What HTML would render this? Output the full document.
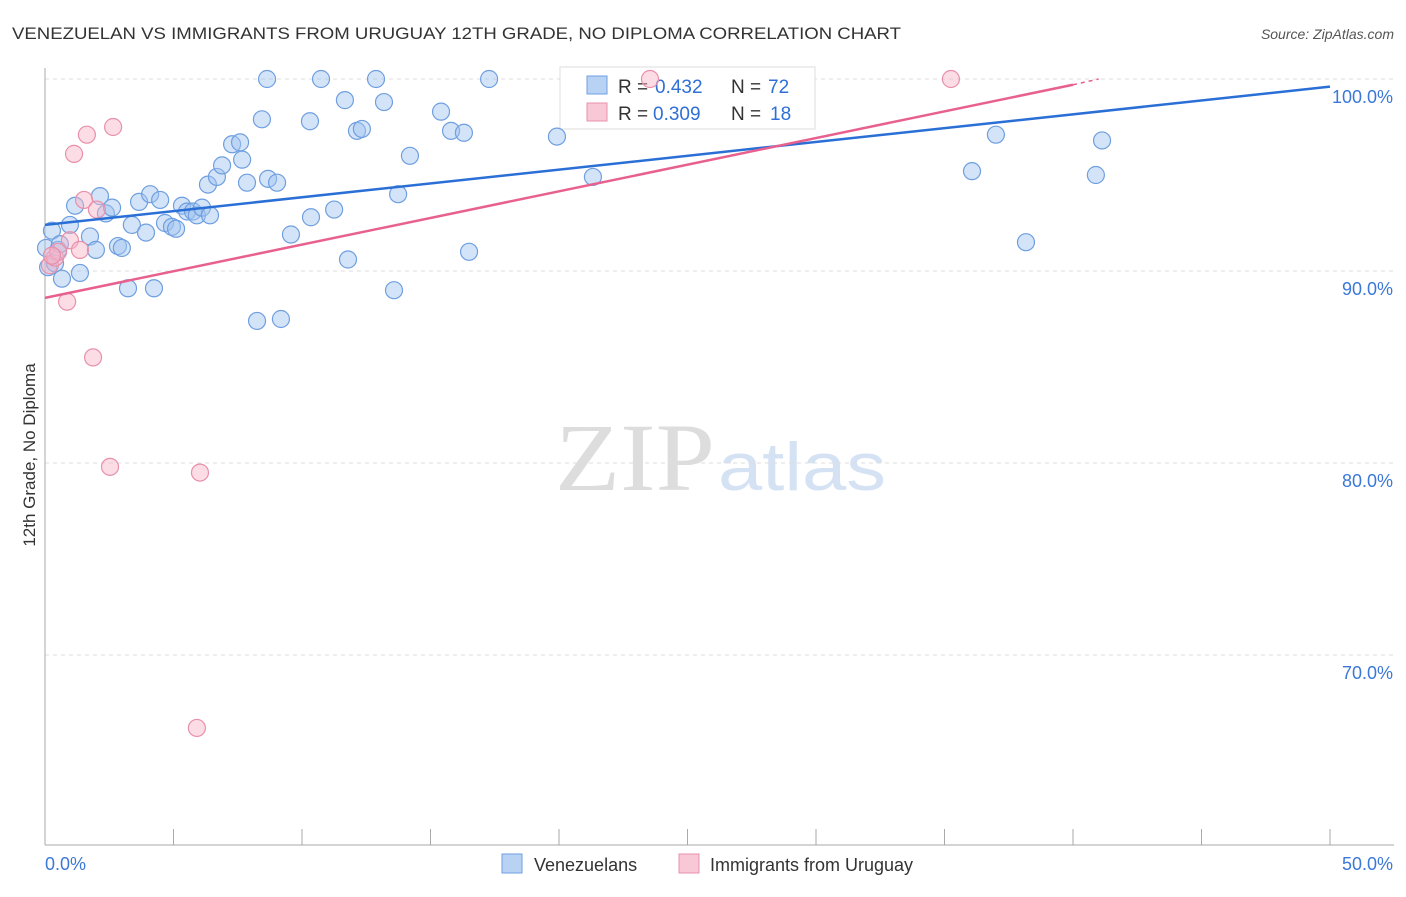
<!DOCTYPE html>
<html><head><meta charset="utf-8"><style>
body{margin:0;background:#fff;font-family:"Liberation Sans",sans-serif;}
svg text{font-family:"Liberation Sans",sans-serif;}
</style></head><body>
<svg id="chart" width="1406" height="892" xmlns="http://www.w3.org/2000/svg">
<text x="12" y="39" font-size="17" fill="#333" textLength="889" lengthAdjust="spacingAndGlyphs">VENEZUELAN VS IMMIGRANTS FROM URUGUAY 12TH GRADE, NO DIPLOMA CORRELATION CHART</text>
<text x="1394" y="39" font-size="14" fill="#555" font-style="italic" text-anchor="end">Source: ZipAtlas.com</text>
<text x="555" y="490" font-size="96" fill="#ddd" textLength="160" lengthAdjust="spacingAndGlyphs" style="font-family:'Liberation Serif',serif">ZIP</text>
<text x="718" y="490" font-size="68" fill="#d5e2f3" textLength="168" lengthAdjust="spacingAndGlyphs">atlas</text>
<g id="grid"></g>
<g>
<rect x="560" y="67" width="255" height="62" fill="#fff" stroke="#ddd"/>
<rect x="587" y="76" width="20" height="18" fill="#b8d2f3" stroke="#6f9fe0"/>
<text x="618" y="93" font-size="19" fill="#333">R =</text>
<text x="655" y="93" font-size="19" fill="#2f6fd6">0.432</text>
<text x="731" y="93" font-size="19" fill="#333">N =</text>
<text x="768" y="93" font-size="19" fill="#2f6fd6">72</text>
<rect x="587" y="103" width="20" height="18" fill="#f8c8d6" stroke="#e890aa"/>
<text x="618" y="120" font-size="19" fill="#333">R =</text>
<text x="653" y="120" font-size="19" fill="#2f6fd6">0.309</text>
<text x="731" y="120" font-size="19" fill="#333">N =</text>
<text x="770" y="120" font-size="19" fill="#2f6fd6">18</text>
</g>
<g id="pts"></g><g id="lines"></g>
<text transform="translate(35,455) rotate(-90)" font-size="17" fill="#333" text-anchor="middle">12th Grade, No Diploma</text>
<g>
<rect x="502" y="854" width="20" height="19" fill="#b8d2f3" stroke="#6f9fe0"/>
<text x="534" y="871" font-size="18" fill="#333">Venezuelans</text>
<rect x="679" y="854" width="20" height="19" fill="#f8c8d6" stroke="#e890aa"/>
<text x="710" y="871" font-size="18" fill="#333">Immigrants from Uruguay</text>
</g>
</svg>
<script>
const yTicks=[100,90,80,70];
const xTickLabels=["0.0%","50.0%"];
const blueX=[0.27,0.51,0.66,0.97,1.17,1.36,1.75,1.98,2.14,2.37,2.61,2.84,2.99,3.23,3.38,3.66,3.93,4.09,4.24,4.48,4.67,4.94,5.10,5.33,5.53,5.76,5.91,6.11,6.34,6.42,6.69,6.89,7.28,7.59,7.67,7.86,8.25,8.44,8.64,8.68,9.03,9.18,9.57,10.31,10.35,10.74,11.25,11.67,11.79,12.14,12.33,12.88,13.19,13.58,13.74,14.20,15.41,15.80,16.30,16.50,17.28,19.92,21.32,36.07,37.00,38.17,40.89,41.13,0.04,0.12,0.39,0.58];
const blueY=[92.1,91.1,89.6,92.4,93.4,89.9,91.8,91.1,93.9,93.0,93.3,91.3,91.2,89.1,92.4,93.6,92.0,94.0,89.1,93.7,92.5,92.3,92.2,93.4,93.1,93.1,92.9,93.3,94.5,92.9,94.9,95.5,96.6,96.7,95.8,94.6,87.4,97.9,100,94.8,94.6,87.5,91.9,97.8,92.8,100,93.2,98.9,90.6,97.3,97.4,100,98.8,89.0,94.0,96.0,98.3,97.3,97.2,91.0,100,97.0,94.9,95.2,97.1,91.5,95.0,96.8,91.2,90.2,90.4,91.4];
const pinkX=[0.19,0.39,0.51,0.86,0.97,1.13,1.36,1.52,1.63,1.87,2.02,2.53,2.65,5.91,6.03,23.54,35.25,0.27];
const pinkY=[90.3,90.7,91.0,88.4,91.6,96.1,91.1,93.7,97.1,85.5,93.2,79.8,97.5,66.2,79.5,100,100,90.8];
const blueLine=[[0,92.4],[50,99.6]];
const pinkLine=[[0,88.6],[40,99.7],[41,100]];
const X=v=>45+v/50*1285, Y=v=>79+(100-v)*19.2;
const NS="http://www.w3.org/2000/svg";
function mk(t,a,p){const e=document.createElementNS(NS,t);for(const k in a)e.setAttribute(k,a[k]);p.appendChild(e);return e;}
const g=document.getElementById('grid');
yTicks.forEach(t=>{
 const l=mk('line',{x1:45,x2:1394,y1:Y(t),y2:Y(t),stroke:'#ddd','stroke-dasharray':'4,4'},g);
 
 
 const tx=mk('text',{x:1393,y:Y(t)+24,'font-size':18,fill:'#3b78d8','text-anchor':'end'},g);
 tx.textContent=t.toFixed(1)+'%';
 
 
});
const ax=mk('line',{x1:45,x2:45,y1:68,y2:845,stroke:'#aaa'},g);


const bx=mk('line',{x1:45,x2:1394,y1:845,y2:845,stroke:'#aaa'},g);


for(let i=0;i<=10;i++){const t=mk('line',{x1:X(i*5),x2:X(i*5),y1:829,y2:845,stroke:'#aaa'},g);
 
 }
const xl0=mk('text',{x:45,y:870,'font-size':18,fill:'#3b78d8'},g);xl0.textContent=xTickLabels[0];


const xl1=mk('text',{x:1393,y:870,'font-size':18,fill:'#3b78d8','text-anchor':'end'},g);xl1.textContent=xTickLabels[1];


const pg=document.getElementById('pts');
blueX.forEach((x,i)=>{const c=mk('circle',{cx:X(x),cy:Y(blueY[i]),r:8.5,fill:'rgba(160,195,240,0.45)',stroke:'#6f9fe0','stroke-width':1.2},pg);
 
 });
pinkX.forEach((x,i)=>{const c=mk('circle',{cx:X(x),cy:Y(pinkY[i]),r:8.5,fill:'rgba(248,180,200,0.45)',stroke:'#e890aa','stroke-width':1.2},pg);
 
 });
const lg=document.getElementById('lines');
const bl=mk('line',{x1:X(blueLine[0][0]),y1:Y(blueLine[0][1]),x2:X(blueLine[1][0]),y2:Y(blueLine[1][1]),stroke:'#2a6fd6','stroke-width':2.5},lg);


const pl=mk('line',{x1:X(pinkLine[0][0]),y1:Y(pinkLine[0][1]),x2:X(pinkLine[1][0]),y2:Y(pinkLine[1][1]),stroke:'#e8608e','stroke-width':2.5},lg);


const pd=mk('line',{x1:X(pinkLine[1][0]),y1:Y(pinkLine[1][1]),x2:X(pinkLine[2][0]),y2:Y(pinkLine[2][1]),stroke:'#e8608e','stroke-width':1.5,'stroke-dasharray':'4,4'},lg);


</script>
</body></html>
